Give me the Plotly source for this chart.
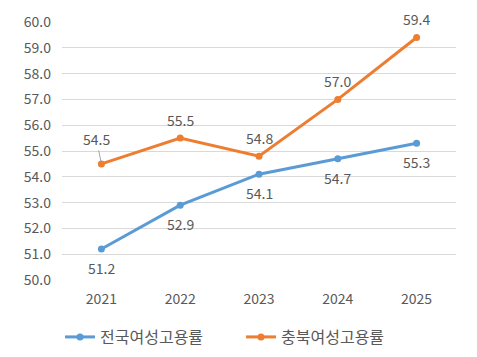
import plotly.graph_objects as go

years = ["2021", "2022", "2023", "2024", "2025"]
national = [51.2, 52.9, 54.1, 54.7, 55.3]
chungbuk = [54.5, 55.5, 54.8, 57.0, 59.4]
name_nat = "전국여성고용률"
name_cb = "충북여성고용률"
yticks = [50 + i for i in range(11)]

BLUE = "#5B9BD5"
ORANGE = "#ED7D31"
TXT = "#595959"
FONT = "Noto Sans CJK KR, Noto Sans, sans-serif"

fig = go.Figure()
fig.add_trace(go.Scatter(x=years, y=national, name=name_nat, mode="lines+markers",
                         line=dict(color=BLUE, width=3), marker=dict(size=7, color=BLUE)))
fig.add_trace(go.Scatter(x=years, y=chungbuk, name=name_cb, mode="lines+markers",
                         line=dict(color=ORANGE, width=3), marker=dict(size=7, color=ORANGE)))

ann = []
for i, v in enumerate(national):
    ann.append(dict(x=i, y=v, text=f"{v:.1f}", showarrow=False, yshift=-19,
                    font=dict(size=14, color=TXT, family=FONT)))
for i, v in enumerate(chungbuk):
    if i == 0:
        ann.append(dict(x=i, y=v, text=f"{v:.1f}", showarrow=True, ax=-5, ay=-25,
                        arrowhead=0, arrowwidth=1, arrowcolor="#A6A6A6", standoff=3,
                        font=dict(size=14, color=TXT, family=FONT)))
    else:
        ann.append(dict(x=i, y=v, text=f"{v:.1f}", showarrow=False, yshift=18,
                        font=dict(size=14, color=TXT, family=FONT)))

fig.update_layout(
    width=469, height=349,
    margin=dict(l=54, r=21, t=14, b=77, autoexpand=False),
    paper_bgcolor="white", plot_bgcolor="white",
    font=dict(family=FONT, size=14, color=TXT),
    annotations=ann,
    showlegend=True,
    legend=dict(orientation="h", x=-0.005, y=-0.221, xanchor="left", yanchor="middle",
                entrywidth=136, entrywidthmode="pixels",
                font=dict(size=16, color=TXT, family=FONT)),
    xaxis=dict(type="category", range=[-0.5, 4.5], showgrid=False, zeroline=False,
               showline=False, ticks="", ticklabelstandoff=9,
               tickfont=dict(size=14, color=TXT)),
    yaxis=dict(range=[50, 60], tickvals=yticks, ticktext=[f"{t:.1f}" for t in yticks],
               showgrid=True, gridcolor="#D9D9D9", gridwidth=1, zeroline=False,
               showline=False, ticks="", ticklabelstandoff=10,
               tickfont=dict(size=14, color=TXT)),
)

fig.write_html("out.html")
